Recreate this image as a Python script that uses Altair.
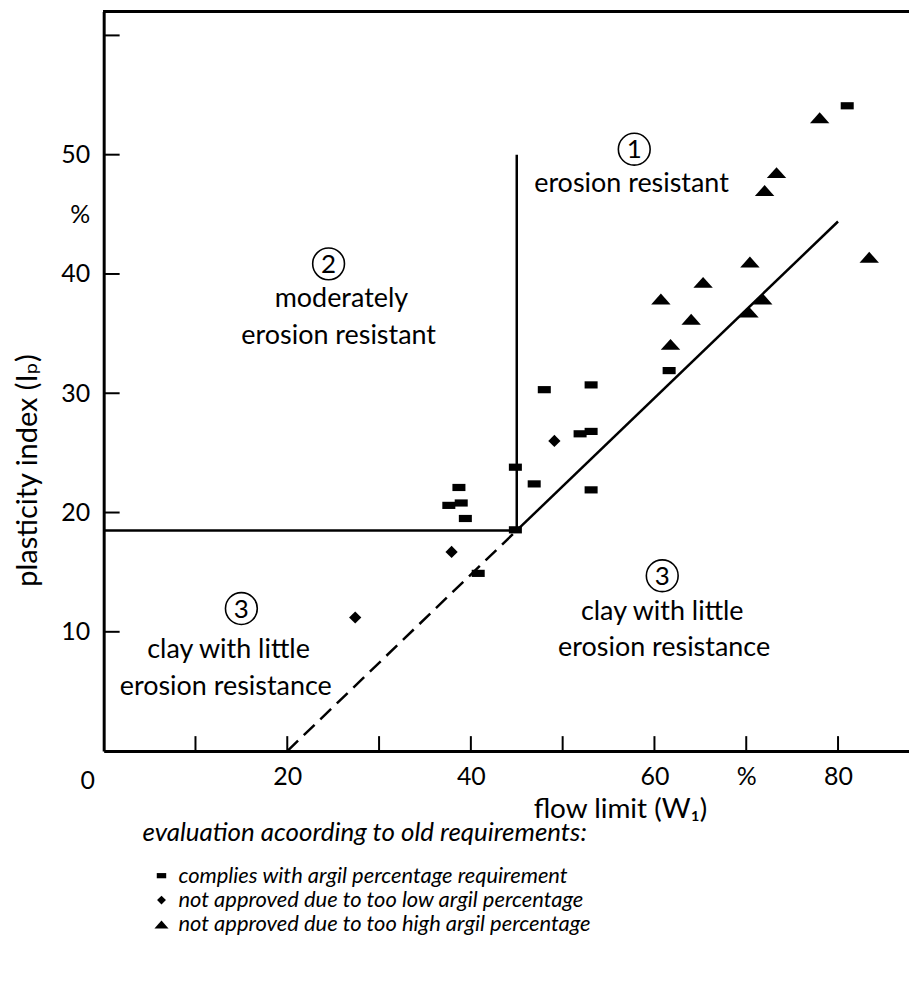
import altair as alt
import pandas as pd

FONT = "Lato, DejaVu Sans"

# ---- data ----
comply_x = [48.0, 53.1, 51.9, 53.1, 44.85, 46.9, 53.1, 38.7, 37.6, 38.95, 39.4, 44.85, 40.8, 61.6, 81.0]
comply_y = [30.3, 30.7, 26.6, 26.8, 23.8, 22.4, 21.9, 22.1, 20.6, 20.8, 19.5, 18.55, 14.9, 31.9, 54.1]
low_x = [49.1, 37.9, 27.4]
low_y = [26.0, 16.7, 11.2]
high_x = [78.0, 73.3, 72.0, 83.4, 70.4, 65.3, 60.7, 71.8, 70.3, 64.0, 61.75]
high_y = [53.1, 48.5, 47.0, 41.4, 41.0, 39.3, 37.9, 37.9, 36.8, 36.2, 34.1]

categories = [
    "complies with argil percentage requirement",
    "not approved due to too low argil percentage",
    "not approved due to too high argil percentage",
]

# boundary lines (solid) and extrapolated A-line (dashed)
solid_x = [0, 45, 45]
solid_y = [18.5, 18.5, 18.5]
solid_x2 = [45, 45, 80]
solid_y2 = [18.5, 50, 44.4]
dash_x, dash_y, dash_x2, dash_y2 = [20], [0], [45], [18.5]

x_ticks = [10, 20, 30, 40, 50, 60, 70, 80]
y_ticks = [10, 20, 30, 40, 50, 60]

# zone annotations
circle_x = [57.8, 24.5, 15.0, 60.85]
circle_y = [50.46, 40.85, 11.95, 14.7]
circle_txt = ["1", "2", "3", "3"]
note_x = [57.5, 25.9, 25.6, 13.6, 13.3, 60.85, 61.05]
note_y = [47.5, 37.9, 34.8, 8.44, 5.35, 11.7, 8.6]
note_txt = ["erosion resistant", "moderately", "erosion resistant",
            "clay with little", "erosion resistance",
            "clay with little", "erosion resistance"]

# ---- tables ----
pts = pd.DataFrame({
    "x": comply_x + low_x + high_x,
    "y": comply_y + low_y + high_y,
    "cat": [categories[0]] * len(comply_x) + [categories[1]] * len(low_x) + [categories[2]] * len(high_x),
})
solid = pd.DataFrame({"x": solid_x, "y": solid_y, "x2": solid_x2, "y2": solid_y2})
dashed = pd.DataFrame({"x": dash_x, "y": dash_y, "x2": dash_x2, "y2": dash_y2})
xt = pd.DataFrame({"v": x_ticks})
yt = pd.DataFrame({"v": y_ticks})
circ = pd.DataFrame({"x": circle_x, "y": circle_y, "t": circle_txt})
notes = pd.DataFrame({"x": note_x, "y": note_y, "t": note_txt})
origin = pd.DataFrame({"x": [0], "t": ["0"]})

W, H = 808, 742
XMAX = W / 9.21
YMAX = 62.0

xs = alt.Scale(domain=[0, XMAX], nice=False, zero=False)
ys = alt.Scale(domain=[0, YMAX], nice=False, zero=False)

rect_path = "M-0.67,-0.37H0.67V0.37H-0.67Z"
diam_path = "M0,-0.63L0.63,0L0,0.63L-0.63,0Z"
tri_path = "M-1,0.56L1,0.56L0,-0.56Z"

x_axis = alt.Axis(values=[20, 40, 60, 70, 80],
                  labelExpr="datum.value == 70 ? '%' : datum.label",
                  ticks=False, grid=False, domainWidth=3, domainColor="black",
                  labelFont=FONT, labelFontSize=25, labelColor="black", labelPadding=14,
                  labelFlush=False, labelOverlap=False,
                  title="flow limit (W₁)", titleFont=FONT, titleFontSize=28,
                  titleFontWeight="normal", titleColor="black",
                  titleX=518, titleY=59, titleAlign="center", titleBaseline="middle")
y_axis = alt.Axis(values=[10, 20, 30, 40, 45, 50],
                  labelExpr="datum.value == 45 ? '%' : datum.label",
                  ticks=False, grid=False, domainWidth=3, domainColor="black",
                  labelFont=FONT, labelFontSize=25, labelColor="black", labelPadding=14,
                  labelFlush=False, labelOverlap=False,
                  title="plasticity index (Iₚ)", titleFont=FONT, titleFontSize=29,
                  titleFontWeight="normal", titleColor="black",
                  titleX=-76, titleY=460, titleAngle=-90,
                  titleAlign="center", titleBaseline="middle")

points = alt.Chart(pts).mark_point(filled=True, size=380, color="black", opacity=1, strokeWidth=0).encode(
    x=alt.X("x:Q", scale=xs, axis=x_axis),
    y=alt.Y("y:Q", scale=ys, axis=y_axis),
    shape=alt.Shape("cat:N",
                    scale=alt.Scale(domain=categories, range=[rect_path, diam_path, tri_path]),
                    legend=alt.Legend(
                        title="evaluation acoording to old requirements:",
                        orient="none", legendX=39, legendY=811, direction="vertical",
                        titleFont=FONT, titleFontSize=26, titleFontStyle="italic",
                        titleFontWeight="normal", titleColor="black", titlePadding=19,
                        titleLimit=800,
                        labelFont=FONT, labelFontSize=22, labelFontStyle="italic",
                        labelColor="black", labelOffset=6, labelLimit=800,
                        symbolSize=200, symbolFillColor="black", symbolStrokeWidth=0,
                        symbolOffset=8, rowPadding=2.5, padding=0)),
)

solid_lines = alt.Chart(solid).mark_rule(color="black", strokeWidth=2.5).encode(
    x=alt.X("x:Q", scale=xs), y=alt.Y("y:Q", scale=ys), x2="x2:Q", y2="y2:Q")
dashed_lines = alt.Chart(dashed).mark_rule(color="black", strokeWidth=2.5, strokeDash=[15, 8]).encode(
    x=alt.X("x:Q", scale=xs), y=alt.Y("y:Q", scale=ys), x2="x2:Q", y2="y2:Q")

x_tick_marks = alt.Chart(xt).mark_rule(color="black", strokeWidth=2).encode(
    x=alt.X("v:Q", scale=xs), y=alt.value(H), y2=alt.value(H - 15))
y_tick_marks = alt.Chart(yt).mark_rule(color="black", strokeWidth=2).encode(
    y=alt.Y("v:Q", scale=ys), x=alt.value(0), x2=alt.value(16))

top_border = alt.Chart(xt).mark_rule(color="black", strokeWidth=3).encode(
    x=alt.value(0), x2=alt.value(W), y=alt.value(0))

circles = alt.Chart(circ).mark_point(shape="circle", filled=False, size=1018,
                                     color="black", strokeWidth=1.6, opacity=1).encode(
    x=alt.X("x:Q", scale=xs), y=alt.Y("y:Q", scale=ys))
circle_digits = alt.Chart(circ).mark_text(font=FONT, fontSize=26, color="black",
                                          align="center", baseline="middle", dy=1).encode(
    x=alt.X("x:Q", scale=xs), y=alt.Y("y:Q", scale=ys), text="t:N")
note_text = alt.Chart(notes).mark_text(font=FONT, fontSize=27, color="black",
                                       align="center", baseline="middle").encode(
    x=alt.X("x:Q", scale=xs), y=alt.Y("y:Q", scale=ys), text="t:N")
origin_label = alt.Chart(origin).mark_text(font=FONT, fontSize=25, color="black",
                                           align="center", baseline="middle", dx=-16).encode(
    x=alt.X("x:Q", scale=xs), y=alt.value(H + 30), text="t:N")

chart = alt.layer(
    top_border, x_tick_marks, y_tick_marks, solid_lines, dashed_lines,
    points, circles, circle_digits, note_text, origin_label,
).properties(
    width=W, height=H,
    autosize=alt.AutoSizeParams(type="none"),
    padding={"left": 96, "top": 2, "right": 0, "bottom": 195},
).configure_view(stroke=None).configure(background="white")

chart.save("out.html", embed_options={"renderer": "svg", "actions": False})
